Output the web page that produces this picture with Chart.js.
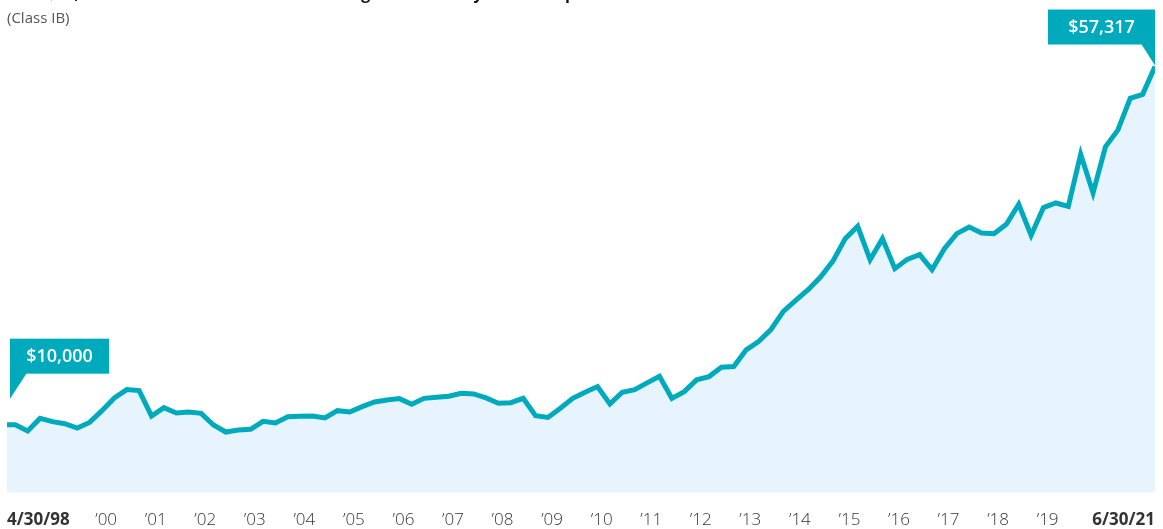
<!DOCTYPE html>
<html>
<head>
<meta charset="utf-8">
<script src="https://cdn.jsdelivr.net/npm/chart.js@4.4.1/dist/chart.umd.min.js"></script>
<style>
    html, body { margin: 0; padding: 0; background: #fff; }
    #wrap { position: relative; width: 1163px; height: 529px; }
</style>
</head>
<body>
<div id="wrap"><canvas id="growthChart"></canvas></div>
<script>
const titleText = 'How $10,000 invested at net asset value has grown to today since inception';
const subtitleText = '(Class IB)';

// quarter-end dates, first point is the inception date
const dates = [
    '1998-04', '1998-06', '1998-09', '1998-12',
    '1999-03', '1999-06', '1999-09', '1999-12',
    '2000-03', '2000-06', '2000-09', '2000-12',
    '2001-03', '2001-06', '2001-09', '2001-12',
    '2002-03', '2002-06', '2002-09', '2002-12',
    '2003-03', '2003-06', '2003-09', '2003-12',
    '2004-03', '2004-06', '2004-09', '2004-12',
    '2005-03', '2005-06', '2005-09', '2005-12',
    '2006-03', '2006-06', '2006-09', '2006-12',
    '2007-03', '2007-06', '2007-09', '2007-12',
    '2008-03', '2008-06', '2008-09', '2008-12',
    '2009-03', '2009-06', '2009-09', '2009-12',
    '2010-03', '2010-06', '2010-09', '2010-12',
    '2011-03', '2011-06', '2011-09', '2011-12',
    '2012-03', '2012-06', '2012-09', '2012-12',
    '2013-03', '2013-06', '2013-09', '2013-12',
    '2014-03', '2014-06', '2014-09', '2014-12',
    '2015-03', '2015-06', '2015-09', '2015-12',
    '2016-03', '2016-06', '2016-09', '2016-12',
    '2017-03', '2017-06', '2017-09', '2017-12',
    '2018-03', '2018-06', '2018-09', '2018-12',
    '2019-03', '2019-06', '2019-09', '2019-12',
    '2020-03', '2020-06', '2020-09', '2020-12',
    '2021-03', '2021-06'
];

const values = [
    10000, 10000, 9170, 10830,
    10400, 10130, 9560, 10300,
    11850, 13530, 14630, 14500,
    11150, 12250, 11550, 11680,
    11500, 9960, 9030, 9300,
    9380, 10440, 10230, 11060,
    11100, 11150, 10890, 11850,
    11680, 12380, 13000, 13270,
    13440, 12690, 13480, 13610,
    13750, 14140, 14060, 13530,
    12820, 12910, 13480, 11190,
    10950, 12170, 13480, 14280,
    15030, 12740, 14280, 14630,
    15520, 16390, 13480, 14370,
    15920, 16350, 17580, 17680,
    19890, 20990, 22570, 24960,
    26410, 27830, 29500, 31610,
    34580, 36210, 31800, 34580,
    30610, 31840, 32470, 30480,
    33250, 35240, 36110, 35320,
    35240, 36470, 39120, 35010,
    38680, 39290, 38850, 45730,
    40610, 46700, 48910, 53110,
    53640, 57317
];

const tickDates = [
    '1998-04', '2000-04', '2001-04', '2002-04', '2003-04', '2004-04', '2005-04',
    '2006-04', '2007-04', '2008-04', '2009-04', '2010-04', '2011-04', '2012-04',
    '2013-04', '2014-04', '2015-04', '2016-04', '2017-04', '2018-04', '2019-04',
    '2021-06'
];
const tickLabels = [
    '4/30/98', '\u201900', '\u201901', '\u201902', '\u201903', '\u201904', '\u201905',
    '\u201906', '\u201907', '\u201908', '\u201909', '\u201910', '\u201911', '\u201912',
    '\u201913', '\u201914', '\u201915', '\u201916', '\u201917', '\u201918', '\u201919',
    '6/30/21'
];

const teal = '#00aabd';
const fontFamily = '"Open Sans", Lato, sans-serif';

function toYear(s) {
    const parts = s.split('-').map(Number);
    return parts[0] + parts[1] / 12;
}

function money(v) {
    return '$' + v.toLocaleString('en-US');
}

const calloutPlugin = {
    id: 'callouts',
    afterDatasetsDraw(chart) {
        const ctx = chart.ctx;
        const pts = chart.getDatasetMeta(0).data;
        const first = pts[0];
        const last = pts[pts.length - 1];

        ctx.save();
        ctx.fillStyle = teal;

        // start callout, pointer at bottom left
        let left = first.x + 3, bottom = first.y - 51;
        ctx.fillRect(left, bottom - 35, 99, 35);
        ctx.beginPath();
        ctx.moveTo(left, bottom - 1);
        ctx.lineTo(left + 17, bottom - 1);
        ctx.lineTo(left, first.y - 26);
        ctx.closePath();
        ctx.fill();

        // end callout, pointer at bottom right
        let right = last.x, bottom2 = last.y - 22;
        ctx.fillRect(right - 107, bottom2 - 35, 107, 35);
        ctx.beginPath();
        ctx.moveTo(right - 14, bottom2 - 1);
        ctx.lineTo(right, bottom2 - 1);
        ctx.lineTo(right, last.y - 1);
        ctx.closePath();
        ctx.fill();

        ctx.fillStyle = '#fff';
        ctx.font = '600 18px ' + fontFamily;
        ctx.textAlign = 'center';
        ctx.textBaseline = 'middle';
        ctx.fillText(money(values[0]), left + 49.5, bottom - 17);
        ctx.fillText(money(values[values.length - 1]), right - 53.5, bottom2 - 17);

        // heading, cut off at the top like the source
        ctx.textAlign = 'left';
        ctx.textBaseline = 'alphabetic';
        ctx.fillStyle = '#111';
        ctx.font = 'bold 16px ' + fontFamily;
        ctx.fillText(titleText, 7, -1);
        ctx.fillStyle = '#555';
        ctx.font = '15px ' + fontFamily;
        ctx.fillText(subtitleText, 7, 23);
        ctx.restore();
    }
};

const ctx = document.getElementById('growthChart').getContext('2d');

new Chart(ctx, {
    type: 'line',
    data: {
        datasets: [{
            data: dates.map((d, i) => ({ x: toYear(d), y: values[i] })),
            borderColor: teal,
            backgroundColor: '#e8f4fd',
            borderWidth: 5,
            tension: 0,
            fill: 'start',
            pointRadius: 0,
            pointHoverRadius: 0
        }]
    },
    options: {
        responsive: true,
        maintainAspectRatio: false,
        animation: false,
        layout: {
            autoPadding: false,
            padding: { left: 7, right: 8, top: 23.5, bottom: -19 }
        },
        plugins: {
            legend: { display: false },
            tooltip: { enabled: false }
        },
        scales: {
            x: {
                type: 'linear',
                min: toYear(dates[0]),
                max: toYear(dates[dates.length - 1]),
                afterBuildTicks: axis => {
                    axis.ticks = tickDates.map(d => ({ value: toYear(d) }));
                },
                grid: { display: false, drawTicks: false },
                border: { display: false },
                ticks: {
                    autoSkip: false,
                    maxRotation: 0,
                    align: 'inner',
                    padding: 7,
                    color: '#333',
                    callback: (v, i) => tickLabels[i],
                    font: c => ({
                        family: fontFamily,
                        size: 17,
                        lineHeight: '41.2px',
                        weight: (c.index === 0 || c.index === tickLabels.length - 1) ? 'bold' : '300'
                    })
                }
            },
            y: {
                display: false,
                min: 1000,
                max: 63000
            }
        }
    },
    plugins: [calloutPlugin]
});
</script>
</body>
</html>
